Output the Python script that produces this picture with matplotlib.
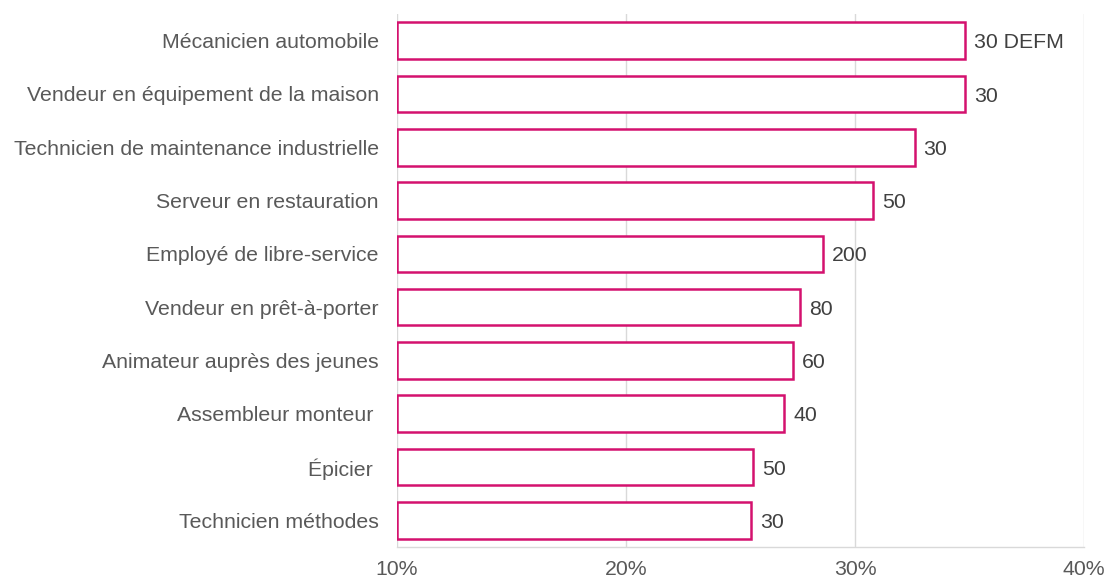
import numpy as np
import matplotlib
matplotlib.use('Agg')
import matplotlib.pyplot as plt

plt.rcParams['font.family'] = ['Liberation Sans', 'DejaVu Sans']

# metiers, from top to bottom
metiers = [
    'Mécanicien automobile',
    'Vendeur en équipement de la maison',
    'Technicien de maintenance industrielle',
    'Serveur en restauration',
    'Employé de libre-service',
    'Vendeur en prêt-à-porter',
    'Animateur auprès des jeunes',
    'Assembleur monteur ',
    'Épicier ',
    'Technicien méthodes',
]
taux = [34.8, 34.8, 32.6, 30.8, 28.6, 27.6, 27.3, 26.9, 25.55, 25.45]
etiquettes = ['30 DEFM', '30', '30', '50', '200', '80', '60', '40', '50', '30']

x_ticks = [10, 20, 30, 40]
x_min, x_max = 10, 40

pink = '#D4116E'
grid_col = '#D9D9D9'
fs = 15.3

fig = plt.figure(figsize=(11.07, 5.8), dpi=100)
ax = fig.add_axes([397/1107, 33/580, 687/1107, 533/580])

y = np.arange(len(metiers))[::-1]
vals = np.array(taux)
bars = ax.barh(y, vals - x_min, left=x_min, height=0.685,
               color='white', edgecolor=pink, linewidth=1.8, zorder=3)

for rect, lab in zip(bars, etiquettes):
    ax.annotate(lab, (rect.get_x() + rect.get_width(), rect.get_y() + rect.get_height()/2),
                xytext=(6.5, -1.5), textcoords='offset points',
                ha='left', va='center', fontsize=fs, color='#404040')

ax.set_xlim(x_min, x_max)
ax.set_ylim(-0.5, len(metiers) - 0.5)
ax.set_xticks(x_ticks)
ax.set_xticklabels(['%d%%' % t for t in x_ticks], fontsize=fs, color='#595959')
ax.set_yticks(y)
ax.set_yticklabels(metiers, fontsize=fs, color='#595959')
ax.tick_params(axis='both', length=0)
ax.tick_params(axis='x', pad=9.5)
ax.tick_params(axis='y', pad=13)

ax.grid(axis='x', color=grid_col, linewidth=1, zorder=0)
for s in ['top', 'right', 'left']:
    ax.spines[s].set_visible(False)
ax.spines['bottom'].set_color(grid_col)
ax.spines['bottom'].set_linewidth(1)

fig.savefig('out.png', dpi=100, facecolor='white')
